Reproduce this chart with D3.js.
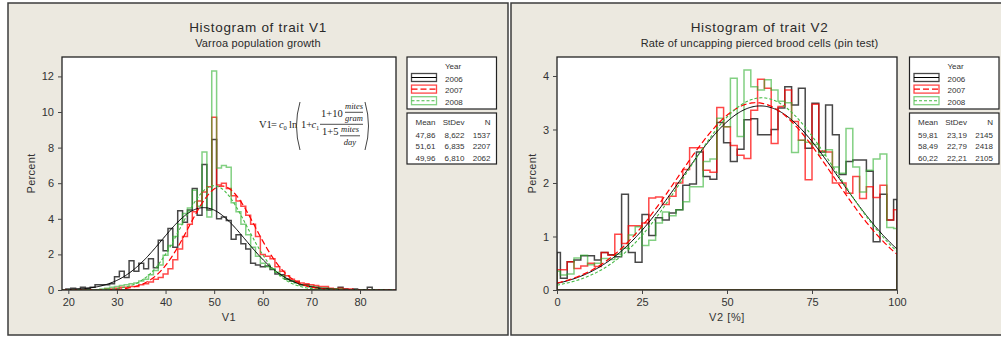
<!DOCTYPE html>
<html>
<head>
<meta charset="utf-8">
<script src="https://cdn.jsdelivr.net/npm/d3@7"></script>
<style>
  body { margin: 0; background: #fff; }
  svg { display: block; font-family: "Liberation Sans", Arial, sans-serif; }
</style>
</head>
<body>
<svg id="chart" width="1001" height="338"></svg>
<script>
// ---------------- data ----------------
const years = ["2006", "2007", "2008"];

// V1 histogram: bins of width 1, centred on 20, 21, ... 86 (percent per bin)
const v1BinFirst = 20;
const v1BinWidth = 1;
const v1_2006 = [0.05, 0.1, 0.05, 0.15, 0.1, 0.15, 0.3, 0.3, 0.3, 0.35,
  0.75, 1.05, 0.7, 1.65, 1.05, 1.5, 1.2, 1.75, 1.25, 2.8,
  2.2, 3.45, 2.4, 4.45, 3.8, 4.5, 5.7, 4.2, 7.05, 4.5,
  8.45, 4.0, 4.1, 3.9, 2.85, 3.1, 2.6, 2.3, 1.5, 1.4,
  1.3, 1.35, 1.15, 0.9, 0.85, 0.6, 0.5, 0.45, 0.3, 0.3,
  0.2, 0.15, 0.1, 0.1, 0.05, 0.05, 0.15, 0.05, 0, 0.05,
  0, 0, 0.15, 0, 0, 0, 0];
const v1_2007 = [0, 0, 0, 0, 0, 0, 0, 0, 0.05, 0.05,
  0.1, 0.15, 0.15, 0.2, 0.2, 0.3, 0.35, 0.45, 0.6, 0.7,
  0.9, 1.2, 1.7, 2.3, 3.0, 3.7, 4.4, 5.0, 5.5, 5.8,
  9.7, 5.9, 6.0, 5.7, 5.3, 5.0, 4.7, 4.2, 3.7, 3.0,
  2.0, 1.9, 1.75, 1.3, 1.05, 0.8, 0.6, 0.5, 0.4, 0.35,
  0.3, 0.25, 0.2, 0.2, 0.1, 0.05, 0.1, 0.05, 0.05, 0,
  0, 0, 0, 0, 0, 0, 0];
const v1_2008 = [0, 0, 0, 0, 0, 0, 0, 0.05, 0.1, 0.15,
  0.2, 0.25, 0.3, 0.35, 0.4, 0.5, 0.6, 0.85, 1.1, 1.4,
  1.95, 2.5, 3.0, 3.7, 4.3, 4.6, 5.6, 4.7, 7.75, 4.1,
  12.3, 6.85, 7.0, 6.9, 4.9, 4.4, 3.7, 3.1, 2.4, 1.9,
  1.5, 1.3, 1.2, 1.0, 0.8, 0.6, 0.5, 0.4, 0.3, 0.25,
  0.2, 0.15, 0.1, 0.1, 0.05, 0.05, 0.05, 0, 0, 0,
  0, 0, 0, 0, 0, 0, 0];
const v1Mean = [47.86, 51.61, 49.96];
const v1StDev = [8.622, 6.835, 6.810];
const v1N = [1537, 2207, 2062];

// V2 histogram: bins of width 2, centred on 0, 2, ... 100 (percent per bin)
const v2BinFirst = 0;
const v2BinWidth = 2;
const v2_2006 = [0.70, 0.22, 0.53, 0.56, 0.64, 0.64, 0.56, 0.70, 0.66, 0.62,
  1.79, 0.70, 0.52, 1.41, 1.02, 1.35, 1.31, 1.44, 1.50, 1.96,
  1.98, 2.58, 2.12, 2.07, 3.13, 2.75, 2.40, 2.63, 3.18, 3.20,
  2.90, 2.90, 3.00, 3.40, 3.80, 3.46, 3.77, 2.65, 3.49, 2.58,
  3.46, 2.90, 2.16, 2.40, 2.43, 2.43, 2.22, 0.90, 1.79, 1.31, 1.69];
const v2_2007 = [0.38, 0.38, 0.53, 0.40, 0.45, 0.50, 0.44, 0.70, 0.65, 1.04,
  0.87, 1.20, 1.20, 1.25, 1.72, 1.74, 1.60, 1.75, 2.00, 2.25,
  2.66, 2.66, 2.24, 2.20, 3.41, 3.05, 2.70, 2.52, 2.46, 3.36,
  3.94, 3.77, 2.74, 3.43, 3.74, 3.15, 2.80, 2.06, 3.47, 2.60,
  2.58, 2.00, 2.00, 1.81, 2.12, 1.71, 1.93, 1.73, 1.96, 1.31, 1.50];
const v2_2008 = [0.35, 0.28, 0.30, 0.60, 0.65, 0.47, 0.50, 0.59, 0.57, 0.67,
  0.78, 1.03, 1.18, 0.83, 0.93, 1.25, 1.46, 1.39, 1.50, 1.65,
  1.93, 1.93, 2.40, 2.45, 3.21, 3.05, 3.96, 2.87, 4.11, 3.80,
  3.74, 3.93, 3.74, 3.53, 3.50, 2.57, 2.80, 2.76, 2.72, 2.52,
  2.62, 2.30, 2.18, 3.02, 2.30, 1.83, 2.24, 2.45, 2.54, 1.17, 1.15];
const v2Mean = [59.81, 58.49, 60.22];
const v2StDev = [23.19, 22.79, 22.21];
const v2N = [2145, 2418, 2105];

const v1XTicks = [20, 30, 40, 50, 60, 70, 80];
const v1YTicks = [0, 2, 4, 6, 8, 10, 12];
const v2XTicks = [0, 25, 50, 75, 100];
const v2YTicks = [0, 1, 2, 3, 4];

// ---------------- styles ----------------
const seriesStyle = [
  { hist: "#000000", histOp: 0.72, fit: "#000000", dash: null, fitW: 1 },
  { hist: "#ff0000", histOp: 0.72, fit: "#ff0000", dash: "6,3", fitW: 1.2 },
  { hist: "#2fb12f", histOp: 0.6, fit: "#44bb44", dash: "3,2", fitW: 1.1 }
];
const textColor = "#333";
const fmt = v => d3.format(".4r")(v).replace(".", ",");

const svg = d3.select("#chart");

function normalPct(x, m, s, bw) {
  return 100 * bw / (s * Math.sqrt(2 * Math.PI)) * Math.exp(-((x - m) ** 2) / (2 * s * s));
}

function drawPanel(p) {
  const g = svg.append("g");

  // panel background
  g.append("rect")
    .attr("x", p.panelX0).attr("y", 3)
    .attr("width", p.panelX1 - p.panelX0).attr("height", 332)
    .attr("fill", "#ece9e0").attr("stroke", "#3c3c3c").attr("stroke-width", 1.5);

  // titles
  g.append("text").attr("x", p.titleX).attr("y", 32)
    .attr("text-anchor", "middle").attr("font-size", 13.5).attr("letter-spacing", 0.7)
    .attr("fill", "#2a2a2a").text(p.title);
  g.append("text").attr("x", p.titleX).attr("y", 47)
    .attr("text-anchor", "middle").attr("font-size", 11).attr("letter-spacing", 0.15)
    .attr("fill", "#2a2a2a").text(p.subtitle);

  const [px0, px1, py0, py1] = p.plot;
  const x = d3.scaleLinear().domain(p.xDomain).range([px0, px1]);
  const y = d3.scaleLinear().domain(p.yDomain).range([py1, py0]);

  g.append("rect").attr("x", px0).attr("y", py0)
    .attr("width", px1 - px0).attr("height", py1 - py0)
    .attr("fill", "#fff");

  const clipId = "clip" + p.id;
  svg.append("clipPath").attr("id", clipId).append("rect")
    .attr("x", px0).attr("y", py0).attr("width", px1 - px0).attr("height", py1 - py0);

  const plotG = g.append("g").attr("clip-path", `url(#${clipId})`);
  const line = d3.line().x(d => x(d[0])).y(d => y(d[1]));
  const [lo, hi] = x.domain();

  // histogram outlines
  p.series.forEach((vals, si) => {
    const half = p.binWidth / 2;
    const pts = [];
    vals.forEach((v, i) => {
      const c = p.binFirst + i * p.binWidth;
      const l = Math.max(lo, c - half);
      const r = Math.min(hi, c + half);
      if (i === 0) pts.push([l, 0]);
      pts.push([l, v], [r, v]);
      if (i === vals.length - 1) pts.push([r, 0]);
    });
    pts.push(pts[0]);
    plotG.append("path").attr("d", line(pts))
      .attr("fill", "none")
      .attr("stroke", seriesStyle[si].hist)
      .attr("stroke-opacity", seriesStyle[si].histOp)
      .attr("stroke-width", 1.5);
  });

  // fitted normal curves (from the mean and StDev in the legend)
  p.mean.forEach((m, si) => {
    const xs = d3.range(lo, hi, (hi - lo) / 300).concat([hi]);
    const pts = xs.map(v => [v, normalPct(v, m, p.sd[si], p.binWidth)]);
    const st = seriesStyle[si];
    plotG.append("path").attr("d", line(pts))
      .attr("fill", "none").attr("stroke", st.fit)
      .attr("stroke-width", st.fitW)
      .attr("stroke-dasharray", st.dash);
  });

  // plot frame
  g.append("rect").attr("x", px0).attr("y", py0)
    .attr("width", px1 - px0).attr("height", py1 - py0)
    .attr("fill", "none").attr("stroke", "#222").attr("stroke-width", 1.3);

  // axes
  const xAxis = g.append("g").attr("transform", `translate(0,${py1})`)
    .call(d3.axisBottom(x).tickValues(p.xTicks).tickFormat(d3.format("d"))
      .tickSize(4).tickPadding(4));
  const yAxis = g.append("g").attr("transform", `translate(${px0},0)`)
    .call(d3.axisLeft(y).tickValues(p.yTicks).tickFormat(d3.format("d"))
      .tickSize(4).tickPadding(4));
  [xAxis, yAxis].forEach(a => {
    a.select(".domain").remove();
    a.selectAll(".tick line").attr("stroke", "#444");
    a.selectAll(".tick text").attr("fill", textColor)
      .attr("font-size", 11).attr("font-family", "Liberation Sans, Arial, sans-serif");
  });

  g.append("text").attr("x", (px0 + px1) / 2).attr("y", 321)
    .attr("text-anchor", "middle").attr("font-size", 11).attr("letter-spacing", 0.6)
    .attr("fill", textColor).text(p.xLabel);
  g.append("text").attr("transform", `translate(${p.yLabelX},${(py0 + py1) / 2}) rotate(-90)`)
    .attr("text-anchor", "middle").attr("font-size", 11).attr("letter-spacing", 0.3)
    .attr("fill", textColor).text("Percent");

  // legend: years
  const lx = p.legendX, lw = 89.5;
  g.append("rect").attr("x", lx).attr("y", 57).attr("width", lw).attr("height", 52)
    .attr("fill", "#fff").attr("stroke", "#222").attr("stroke-width", 1.2);
  g.append("text").attr("x", lx + 46).attr("y", 68.5).attr("text-anchor", "middle")
    .attr("font-size", 8).attr("fill", textColor).text("Year");
  years.forEach((yr, i) => {
    const top = 73.5 + i * 11.6;
    const st = seriesStyle[i];
    g.append("rect").attr("x", lx + 4.5).attr("y", top).attr("width", 25).attr("height", 8)
      .attr("fill", "none").attr("stroke", st.hist).attr("stroke-opacity", st.histOp)
      .attr("stroke-width", 1.3);
    g.append("line").attr("x1", lx + 4.5).attr("x2", lx + 29.5)
      .attr("y1", top + 4).attr("y2", top + 4)
      .attr("stroke", st.fit).attr("stroke-width", st.fitW)
      .attr("stroke-dasharray", st.dash);
    g.append("text").attr("x", lx + 38).attr("y", top + 8)
      .attr("font-size", 8).attr("fill", textColor).text(yr);
  });

  // legend: statistics
  g.append("rect").attr("x", lx).attr("y", 113).attr("width", lw).attr("height", 51)
    .attr("fill", "#fff").attr("stroke", "#222").attr("stroke-width", 1.2);
  const cols = [lx + 28.5, lx + 57.5, lx + 83.5];
  ["Mean", "StDev", "N"].forEach((h, j) => {
    g.append("text").attr("x", cols[j]).attr("y", 124.5).attr("text-anchor", "end")
      .attr("font-size", 8).attr("fill", textColor).text(h);
  });
  p.mean.forEach((m, i) => {
    const row = [fmt(m), fmt(p.sd[i]), String(p.n[i])];
    row.forEach((t, j) => {
      g.append("text").attr("x", cols[j]).attr("y", 137.5 + i * 11.5)
        .attr("text-anchor", "end").attr("font-size", 8).attr("fill", textColor).text(t);
    });
  });

  if (p.formula) drawFormula(g);
}

function drawFormula(g) {
  const f = g.append("g").attr("font-family", "Liberation Serif, Times New Roman, serif")
    .attr("fill", "#222");
  const t = (xx, yy, s, size, italic, anchor) => f.append("text")
    .attr("x", xx).attr("y", yy).attr("font-size", size)
    .attr("font-style", italic ? "italic" : "normal")
    .attr("text-anchor", anchor || "start").text(s);
  const bar = (x1, x2, yy) => f.append("line").attr("x1", x1).attr("x2", x2)
    .attr("y1", yy).attr("y2", yy).attr("stroke", "#222").attr("stroke-width", 0.8);

  t(259, 128, "V1", 10.5, false);
  t(271, 128, "=", 10.5, false);
  t(279, 128, "c", 10.5, true);
  t(283.5, 130, "0", 6.5, false);
  t(289, 128, "ln", 10.5, false);
  f.append("path").attr("d", "M300,102 Q293,126 300,150")
    .attr("fill", "none").attr("stroke", "#444").attr("stroke-width", 1);
  f.append("path").attr("d", "M365,102 Q372,126 365,150")
    .attr("fill", "none").attr("stroke", "#444").attr("stroke-width", 1);
  t(301, 128, "1+", 10.5, false);
  t(311.5, 128, "c", 10.5, true);
  t(316, 130, "1", 6.5, false);
  bar(320, 363, 124.3);
  t(321, 116.5, "1+10", 10.5, false);
  t(354, 108.5, "mites", 8.5, true, "middle");
  bar(345, 363, 112.3);
  t(354, 120.5, "gram", 8.5, true, "middle");
  t(322, 135, "1+5", 10.5, false);
  t(350, 132, "mites", 8.5, true, "middle");
  bar(340, 360, 135.8);
  t(350, 145, "day", 8.5, true, "middle");
}

drawPanel({
  id: 1, panelX0: 8, panelX1: 508, titleX: 258,
  title: "Histogram of trait V1", subtitle: "Varroa population growth",
  plot: [62, 396, 57, 290], xDomain: [18.7, 87.4], yDomain: [0, 13.09],
  xTicks: v1XTicks, yTicks: v1YTicks, xLabel: "V1", yLabelX: 35,
  binFirst: v1BinFirst, binWidth: v1BinWidth,
  series: [v1_2006, v1_2007, v1_2008],
  mean: v1Mean, sd: v1StDev, n: v1N,
  legendX: 407, formula: true
});

drawPanel({
  id: 2, panelX0: 511, panelX1: 1012, titleX: 759.5,
  title: "Histogram of trait V2", subtitle: "Rate of uncapping pierced brood cells (pin test)",
  plot: [557, 897, 57, 290], xDomain: [0, 100], yDomain: [0, 4.355],
  xTicks: v2XTicks, yTicks: v2YTicks, xLabel: "V2 [%]", yLabelX: 536,
  binFirst: v2BinFirst, binWidth: v2BinWidth,
  series: [v2_2006, v2_2007, v2_2008],
  mean: v2Mean, sd: v2StDev, n: v2N,
  legendX: 909.5, formula: false
});
</script>
</body>
</html>
